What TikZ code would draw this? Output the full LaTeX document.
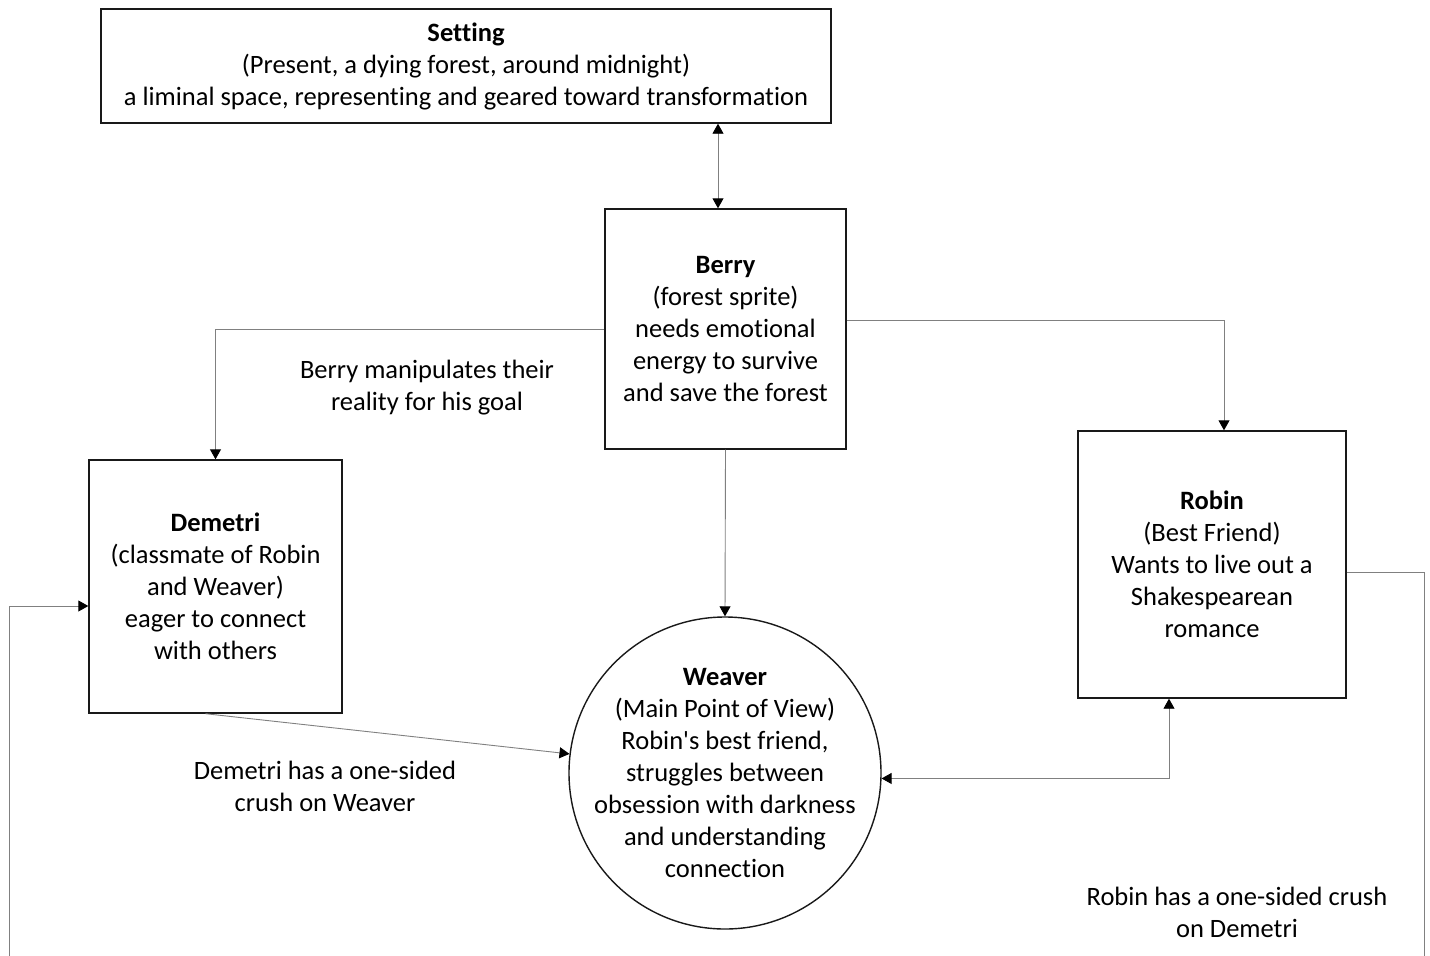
\documentclass[tikz,border=0pt]{standalone}
\usepackage{fontspec}
\setmainfont{Carlito}[Ligatures={NoCommon,TeXOff}]
\usetikzlibrary{arrows.meta,calc}
\begin{document}
\begin{tikzpicture}[x=1pt,y=-1pt,
  font=\fontsize{26.5}{32}\selectfont,
  box/.style={draw=black!90,line width=1.4pt,align=center,inner sep=0pt},
  conn/.style={draw=black!50,line width=0.9pt},
  tip/.style={-{Triangle[length=10pt,width=11pt,color=black]}},
  lbl/.style={align=center,inner sep=0pt}]
\useasboundingbox (0,0) rectangle (1430,956);
\node[box,minimum width=730pt,minimum height=114pt] (setting) at (466,66)
  {\textbf{Setting}\\(Present, a dying forest, around midnight)\\a liminal space, representing and geared toward transformation};
\node[box,minimum width=241pt,minimum height=240pt] (berry) at (725.5,329)
  {\textbf{Berry}\\(forest sprite)\\needs emotional\\energy to survive\\and save the forest};
\node[box,minimum width=253pt,minimum height=253pt] (demetri) at (215.5,586.5)
  {\textbf{Demetri}\\(classmate of Robin\\and Weaver)\\eager to connect\\with others};
\node[box,minimum width=268pt,minimum height=267pt] (robin) at (1212,564.5)
  {\textbf{Robin}\\(Best Friend)\\Wants to live out a\\Shakespearean\\romance};
\node[box,circle,minimum size=312pt] (weaver) at (725,773) {};
\node[lbl] (weavertxt) at (weaver.center)
  {\textbf{Weaver}\\(Main Point of View)\\Robin's best friend,\\struggles between\\obsession with darkness\\and understanding\\connection};
\node[lbl] (l1) at (427,388) {Berry manipulates their\\reality for his goal};
\node[lbl] (l2) at (325,786) {Demetri has a one-sided\\crush on Weaver};
\node[lbl] (l3) at (1237,912) {Robin has a one-sided crush\\on Demetri};
\coordinate (lbot) at (9,960);
\coordinate (rbot) at (1424,960);
% connectors
\draw[conn,{Triangle[length=10pt,width=11pt,color=black]}-{Triangle[length=10pt,width=11pt,color=black]}]
  (setting.south -| 718,0) -- (berry.north -| 718,0);
\draw[conn,tip] (berry.west) -| (demetri.north);
\draw[conn,tip] ([yshift=9pt]berry.east) -| ([xshift=12pt]robin.north);
\draw[conn,tip] (berry.south) -- (weaver.north);
\draw[conn,tip] ([xshift=-10pt]demetri.south) -- (weaver.173);
\draw[conn,{Triangle[length=10pt,width=11pt,color=black]}-{Triangle[length=10pt,width=11pt,color=black]}]
  ([xshift=-43pt]robin.south) |- (weaver.-2);
\draw[conn] ([yshift=-7.5pt]robin.east) -| (rbot);
\draw[conn,tip] (lbot) |- ([yshift=-19.5pt]demetri.west);
\end{tikzpicture}
\end{document}
